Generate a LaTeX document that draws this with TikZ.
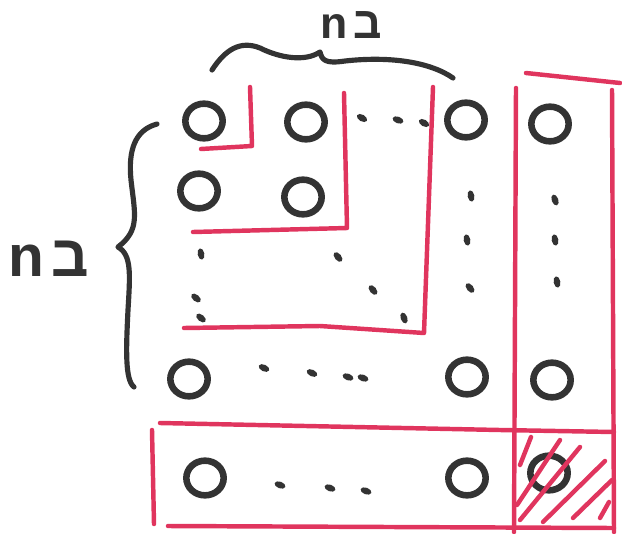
\documentclass[tikz,border=0pt]{standalone}
\usepackage{fontspec}
\setmainfont{Liberation Sans}
\usetikzlibrary{shapes.geometric}
\definecolor{ink}{HTML}{333333}
\definecolor{rd}{HTML}{E0355E}
\tikzset{
  cell/.style={ellipse,draw=ink,line width=5.6pt,minimum width=1.12cm,minimum height=1.04cm,inner sep=0pt},
  dotm/.style={fill=ink,ellipse,inner sep=0pt,minimum width=0.34cm,minimum height=0.2cm},
  redline/.style={draw=rd,line width=3.8pt,line cap=round,line join=round},
  brace/.style={draw=ink,line width=4.4pt,line cap=round,line join=round},
  lbl/.style={text=ink,font=\fontsize{38}{38}\selectfont\bfseries,inner sep=0pt},
  lblbig/.style={text=ink,font=\fontsize{50}{50}\selectfont\bfseries,inner sep=0pt}
}
\begin{document}
\begin{tikzpicture}[x=0.03cm,y=-0.03cm]
\useasboundingbox (0,0) rectangle (622,533);
% labels
\node[lbl,anchor=base west] (ltopn) at (320,38) {n};
\node[lbl,anchor=base west,xshift=5pt] (ltopb) at (ltopn.base east) {ב};
\node[lblbig,anchor=base west] (lleftn) at (8,276) {n};
\node[lblbig,anchor=base west,xshift=6pt] (lleftb) at (lleftn.base east) {ב};
% braces
\draw[brace] (212,70) .. controls (225,50) and (240,40) .. (260,48) .. controls (280,58) and (305,62) .. (320,52) .. controls (322,60) and (325,64) .. (345,61) .. controls (390,56) and (430,62) .. (453,78);
\draw[brace] (157,124) .. controls (135,130) and (128,150) .. (131,180) .. controls (135,215) and (140,230) .. (118,247) .. controls (132,255) and (130,275) .. (128,310) .. controls (126,350) and (125,380) .. (134,387);
% circles
\node[cell] (c11) at (204,121) {};
\node[cell] (c12) at (306,122) {};
\node[cell] (c14) at (466,120) {};
\node[cell] (c15) at (550,124) {};
\node[cell] (c21) at (199,191) {};
\node[cell] (c22) at (303,197) {};
\node[cell] (c51) at (189,379) {};
\node[cell] (c54) at (467,377) {};
\node[cell] (c55) at (552,380) {};
\node[cell] (c61) at (205,478) {};
\node[cell] (c64) at (467,478) {};
\node[cell] (c65) at (549,473) {};
% dots
\foreach \p/\r in {(362,118)/-30,(398,120)/-20,(424,123)/-30,
  (471,196)/-80,(467,240)/-80,(470,288)/-50,
  (555,200)/-70,(555,240)/-80,(557,282)/-80,
  (201,254)/-80,(196,298)/-40,(201,318)/-40,
  (338,257)/-50,(373,290)/-50,(404,318)/-70,
  (264,368)/-25,(312,373)/-25,(348,377)/-20,(363,378)/-20,
  (280,485)/-20,(330,488)/-20,(366,491)/-20}
  \node[dotm,rotate=\r] at \p {};
% red shapes
\draw[redline] (250,87) -- (252,146) -- (201,149);
\draw[redline] (344,93) -- (347,228) -- (193,232);
\draw[redline] (433,87) -- (424,333) -- (320,326) -- (184,328);
\draw[redline] (516,88) -- (514,532);
\draw[redline] (612,90) -- (614,532);
\draw[redline] (526,73) -- (620,83);
\draw[redline] (152,430) -- (154,524);
\draw[redline] (160,423) -- (500,430) -- (614,432);
\draw[redline] (168,526) -- (614,528);
% hatching
\foreach \a/\b in {{(520,465)}/{(531,437)},{(517,505)}/{(560,440)},{(520,520)}/{(580,447)},{(543,522)}/{(605,461)},{(573,518)}/{(612,480)},{(600,518)}/{(609,502)}}
  \draw[redline] \a -- \b;
\end{tikzpicture}
\end{document}
